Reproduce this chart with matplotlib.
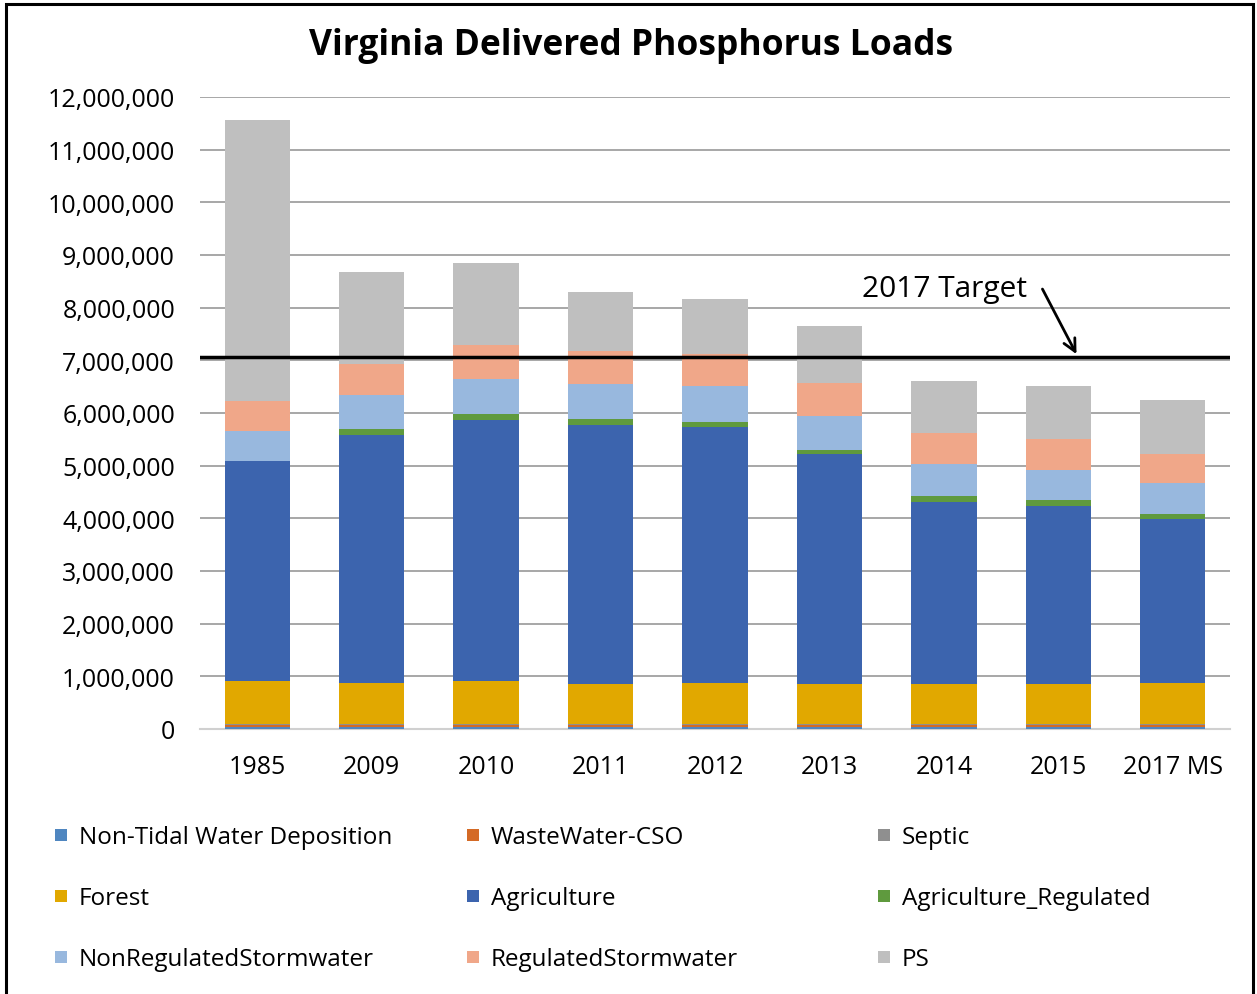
import matplotlib.pyplot as plt
from matplotlib.patches import Rectangle
from matplotlib.ticker import FuncFormatter

plt.rcParams['font.family'] = ['Open Sans', 'DejaVu Sans']

years = ['1985', '2009', '2010', '2011', '2012', '2013', '2014', '2015', '2017 MS']

sources = ['Non-Tidal Water Deposition', 'WasteWater-CSO', 'Septic',
           'Forest', 'Agriculture', 'Agriculture_Regulated',
           'NonRegulatedStormwater', 'RegulatedStormwater', 'PS']
colors = ['#4f86c0', '#d46a26', '#8f8f8f',
          '#e1a800', '#3c64ae', '#5f9a3e',
          '#98b8de', '#f0a789', '#bfbfbf']

non_tidal = [45000, 45000, 45000, 45000, 45000, 45000, 45000, 45000, 45000]
cso = [40000, 40000, 40000, 40000, 40000, 40000, 40000, 40000, 40000]
septic = [1000, 1000, 1000, 1000, 1000, 1000, 1000, 1000, 1000]
forest = [825000, 787000, 825000, 774000, 787000, 774000, 774000, 774000, 787000]
agriculture = [4183000, 4715000, 4962000, 4918000, 4867000, 4361000, 3444000, 3380000, 3120000]
agriculture_reg = [0, 102000, 102000, 102000, 90000, 76000, 114000, 102000, 89000]
nonreg_sw = [564000, 657000, 676000, 670000, 676000, 646000, 608000, 575000, 583000]
reg_sw = [576000, 583000, 639000, 630000, 620000, 626000, 600000, 595000, 556000]
ps = [5326000, 1747000, 1558000, 1117000, 1038000, 1082000, 987000, 1006000, 1025000]

target_2017 = 7070000

series = [non_tidal, cso, septic, forest, agriculture, agriculture_reg,
          nonreg_sw, reg_sw, ps]

W, H = 1257, 995
fig = plt.figure(figsize=(W / 100, H / 100), dpi=100)
ax = fig.add_axes([200 / W, 1 - 730 / H, 1030 / W, 632 / H])

x = range(len(years))
bottom = [0] * len(years)
for name, vals, col in zip(sources, series, colors):
    ax.bar(x, vals, 0.57, bottom=bottom, color=col, label=name,
           zorder=3, linewidth=0)
    bottom = [b + v for b, v in zip(bottom, vals)]

ax.set_xlim(-0.5, len(years) - 0.5)
ax.set_ylim(0, 12000000)
ax.set_yticks(range(0, 12000001, 1000000))
ax.yaxis.set_major_formatter(FuncFormatter(lambda v, p: f'{int(v):,}'))
ax.set_xticks(list(x))
ax.set_xticklabels(years)
ax.tick_params(axis='both', length=0, labelsize=18, colors='black')
ax.tick_params(axis='y', pad=18)
ax.tick_params(axis='x', pad=18)
ax.grid(axis='y', color='#a0a0a0', linewidth=1.3, zorder=0)
for s in ['top', 'right', 'left']:
    ax.spines[s].set_visible(False)
ax.spines['bottom'].set_color('#d0d0d0')
ax.spines['bottom'].set_linewidth(1.5)

# target line
ax.axhline(target_2017, color='black', linewidth=2.5, zorder=5)
ax.text(862 / W, 1 - 290 / H, '2017 Target', transform=fig.transFigure,
        fontsize=21.5, ha='left', va='center')
ax.annotate('', xy=(7.17, target_2017), xytext=(6.85, 8400000),
            arrowprops=dict(arrowstyle='->', color='black', lw=2,
                            mutation_scale=22), zorder=6)

fig.text(0.502, 1 - 46 / H, 'Virginia Delivered Phosphorus Loads', ha='center',
         va='center', fontsize=25.5, fontweight='bold')

# legend drawn as a 3x3 grid, row by row
col_x = [55, 467, 878]
row_y = [836, 897, 958]
for i, (name, col) in enumerate(zip(sources, colors)):
    cx = col_x[i % 3]
    cy = row_y[i // 3]
    fig.patches.append(Rectangle((cx / W, 1 - (cy + 6) / H), 12 / W, 12 / H,
                                 transform=fig.transFigure, facecolor=col,
                                 edgecolor='none'))
    fig.text((cx + 24) / W, 1 - (cy + 2) / H, name, fontsize=17.5,
             ha='left', va='center')

# outer frame
fig.patches.append(Rectangle((6 / W, -0.01), 1247 / W, 1.005,
                             transform=fig.transFigure, fill=False,
                             edgecolor='black', linewidth=2.2))

fig.savefig('out.png', dpi=100)
